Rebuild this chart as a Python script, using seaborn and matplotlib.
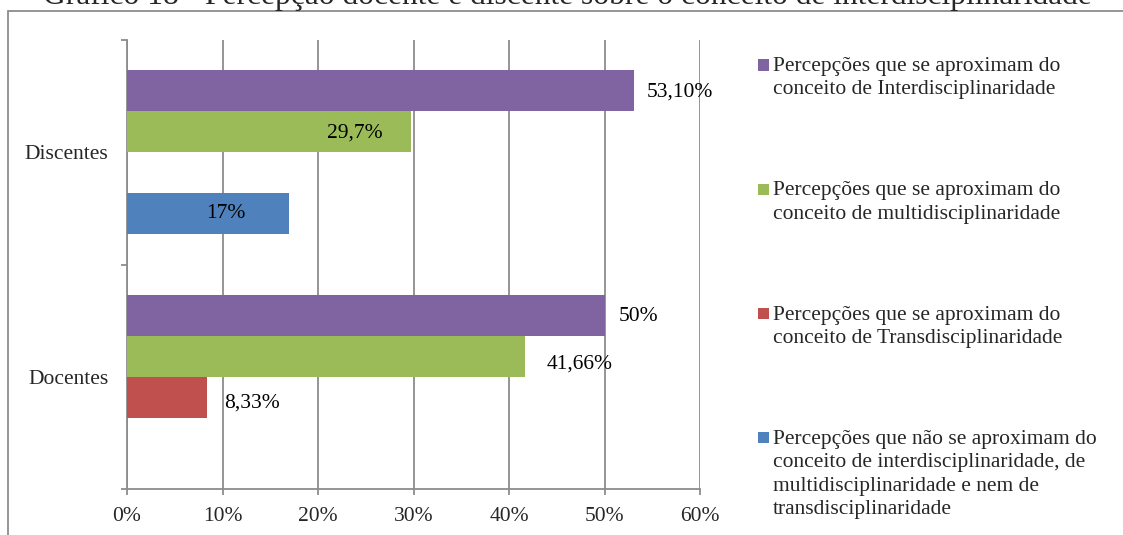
import matplotlib
matplotlib.use("Agg")
import matplotlib.pyplot as plt
from matplotlib.patches import Rectangle
import seaborn as sns
import pandas as pd
import numpy as np

# ---- data ----
groups = ["Discentes", "Docentes"]
series = [
    "Percepções que se aproximam do\nconceito de Interdisciplinaridade",
    "Percepções que se aproximam do\nconceito de multidisciplinaridade",
    "Percepções que se aproximam do\nconceito de Transdisciplinaridade",
    "Percepções que não se aproximam do\nconceito de interdisciplinaridade, de\nmultidisciplinaridade e nem de\ntransdisciplinaridade",
]
colors = ["#8064A2", "#9BBB59", "#C0504D", "#4F81BD"]
# values per series, in group order (Discentes, Docentes)
interdisc = [53.10, 50.0]
multidisc = [29.7, 41.66]
transdisc = [0.0, 8.33]
nenhuma = [17.0, 0.0]
# printed value labels per series (None = no label)
lbl_interdisc = ["53,10%", "50%"]
lbl_multidisc = ["29,7%", "41,66%"]
lbl_transdisc = [None, "8,33%"]
lbl_nenhuma = ["17%", None]
xticks = [0, 10, 20, 30, 40, 50, 60]
title = "Gráfico 18 - Percepção docente e discente sobre o conceito de interdisciplinaridade"

values = [interdisc, multidisc, transdisc, nenhuma]
labels = [lbl_interdisc, lbl_multidisc, lbl_transdisc, lbl_nenhuma]

df = pd.DataFrame(
    [(g, s, v[i]) for s, v in zip(series, values) for i, g in enumerate(groups)],
    columns=["grupo", "serie", "valor"],
)

# label placement: (dx in %, dy in px) relative to bar end / centre
label_offsets = [
    [(4.8, 1.5), (3.6, 1.5)],
    [(-5.8, 1.5), (5.7, 8.0)],
    [(0, 0), (4.8, 6.0)],
    [(-6.6, 0.0), (0, 0)],
]

W, H = 1123, 535
sns.set_theme(style="white")
plt.rcParams["font.family"] = ["Liberation Serif", "DejaVu Serif"]
FS = 15.5
GRAY = "#8c8c8c"

fig = plt.figure(figsize=(W / 100, H / 100), dpi=100)
ax = fig.add_axes([127 / W, 1 - 489 / H, (700 - 127) / W, (489 - 40) / H])

sns.barplot(
    data=df, x="valor", y="grupo", hue="serie", hue_order=series,
    order=groups, palette=colors, orient="h", width=0.73,
    saturation=1, linewidth=0, legend=False, ax=ax, zorder=3,
)

ax.set_xlim(0, 60)
ax.set_ylim(1.5, -0.5)
ax.set_xticks(xticks)
ax.set_xticklabels([f"{t}%" for t in xticks], fontsize=FS)
ax.set_yticks([-0.5, 0.5, 1.5])
ax.set_yticklabels([])
ax.set_yticks([0, 1], minor=True)
ax.set_yticklabels(groups, minor=True, fontsize=FS)
ax.tick_params(axis="y", which="minor", length=0, pad=13.5)
ax.tick_params(axis="y", which="major", length=4.5, width=1.3, color=GRAY, left=True)
ax.tick_params(axis="x", length=4.5, width=1.3, color=GRAY, pad=8.5, bottom=True)
ax.set_xlabel("")
ax.set_ylabel("")
ax.grid(axis="x", color=GRAY, lw=1.3, zorder=0)
ax.grid(axis="y", visible=False)
ax.set_axisbelow(True)
for side in ["top", "right"]:
    ax.spines[side].set_visible(False)
for side in ["left", "bottom"]:
    ax.spines[side].set_color(GRAY)
    ax.spines[side].set_linewidth(1.3)

# value labels, positioned from the drawn bars
px_per_unit = (489 - 40) / 2.0
col_to_idx = {matplotlib.colors.to_hex(c).lower(): i for i, c in enumerate(colors)}
for p in ax.patches:
    si = col_to_idx.get(matplotlib.colors.to_hex(p.get_facecolor()).lower())
    if si is None:
        continue
    yc = p.get_y() + p.get_height() / 2
    gi = int(round(yc))
    txt = labels[si][gi]
    if txt is None:
        continue
    dx, dy = label_offsets[si][gi]
    ax.text(p.get_width() + dx, yc + dy / px_per_unit, txt, ha="center",
            va="center", fontsize=FS, color="black", zorder=5)

# legend, drawn beside the plot
leg_y0 = 65
leg_step = 124.3
for i, (name, c) in enumerate(zip(series, colors)):
    yc = leg_y0 + i * leg_step
    fig.patches.append(Rectangle(((758) / W, 1 - (yc + 5.5) / H), 11 / W, 11 / H,
                                 transform=fig.transFigure, facecolor=c,
                                 edgecolor="none"))
    fig.text(773 / W, 1 - (yc - 8) / H, name, ha="left", va="top",
             fontsize=FS, linespacing=1.31)

# chart frame and title
fig.patches.append(Rectangle((8 / W, -0.1), 1.2, 1 - 11 / H + 0.1,
                             transform=fig.transFigure, facecolor="none",
                             edgecolor=GRAY, lw=1.3))
fig.text(567 / W, 1 - 4 / H, title, ha="center", va="baseline", fontsize=22.7)

fig.savefig("out.png", dpi=100)
